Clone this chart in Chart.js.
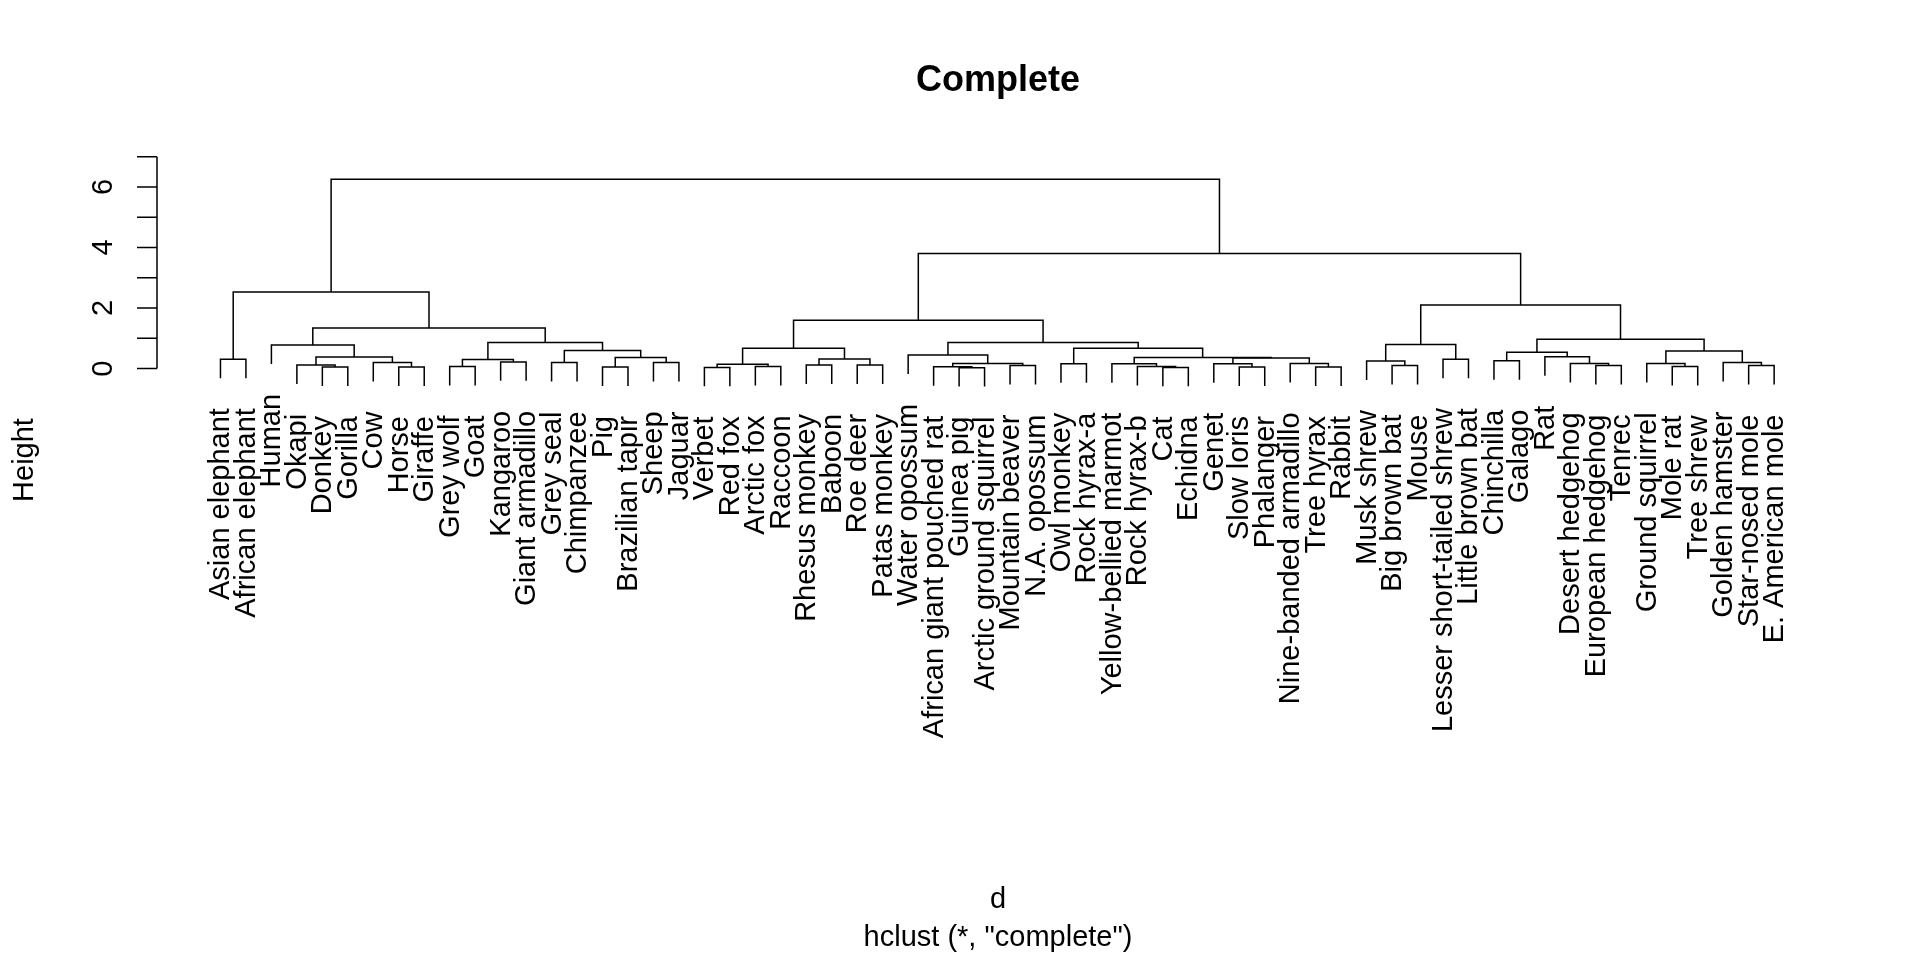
<!DOCTYPE html>
<html lang="en">
<head>
    <meta charset="UTF-8">
    <title>Complete</title>
    <style>
        body { margin: 0; padding: 0; background: #fff; }
        canvas { display: block; }
    </style>
</head>
<body>
    <canvas id="dendro" width="1920" height="960"></canvas>

    <script src="https://cdn.jsdelivr.net/npm/chart.js"></script>
    <script>
        const labels = ['Asian elephant', 'African elephant', 'Human', 'Okapi', 'Donkey', 'Gorilla', 'Cow', 'Horse', 'Giraffe',
            'Grey wolf', 'Goat', 'Kangaroo', 'Giant armadillo', 'Grey seal', 'Chimpanzee', 'Pig', 'Brazilian tapir', 'Sheep', 'Jaguar',
            'Verbet', 'Red fox', 'Arctic fox', 'Raccoon', 'Rhesus monkey', 'Baboon', 'Roe deer', 'Patas monkey', 'Water opossum',
            'African giant pouched rat', 'Guinea pig', 'Arctic ground squirrel', 'Mountain beaver', 'N.A. opossum', 'Owl monkey',
            'Rock hyrax-a', 'Yellow-bellied marmot', 'Rock hyrax-b', 'Cat', 'Echidna', 'Genet', 'Slow loris', 'Phalanger',
            'Nine-banded armadillo', 'Tree hyrax', 'Rabbit', 'Musk shrew', 'Big brown bat', 'Mouse', 'Lesser short-tailed shrew',
            'Little brown bat', 'Chinchilla', 'Galago', 'Rat', 'Desert hedgehog', 'European hedgehog', 'Tenrec', 'Ground squirrel',
            'Mole rat', 'Tree shrew', 'Golden hamster', 'Star-nosed mole', 'E. American mole'];

        // merges: [height, left, right]; a number is a leaf (1-based position)
        const A = [2.53, [0.31, 1, 2],
            [1.34,
                [0.78, 3, [0.38, [0.12, 4, [0.05, 5, 6]], [0.2, 7, [0.05, 8, 9]]]],
                [0.86, [0.3, [0.07, 10, 11], [0.22, 12, 13]],
                    [0.6, [0.2, 14, 15], [0.37, [0.05, 16, 17], [0.2, 18, 19]]]]]];
        const B1 = [1.6,
            [0.67, [0.14, [0.04, 20, 21], [0.07, 22, 23]], [0.32, [0.12, 24, 25], [0.12, 26, 27]]],
            [0.86, [0.45, 28, [0.17, [0.06, 29, [0.03, 30, 31]], [0.1, 32, 33]]],
                [0.67, [0.16, 34, 35],
                    [0.37, [0.16, 36, [0.07, 37, [0.04, 38, 39]]],
                        [0.35, [0.16, 40, [0.05, 41, 42]], [0.17, 43, [0.05, 44, 45]]]]]]];
        const B2 = [2.1,
            [0.8, [0.25, 46, [0.1, 47, 48]], [0.31, 49, 50]],
            [0.97, [0.54, [0.26, 51, 52], [0.39, 53, [0.17, 54, [0.1, 55, 56]]]],
                [0.58, [0.17, 57, [0.07, 58, 59]], [0.2, 60, [0.1, 61, 62]]]]];
        const tree = [6.25, A, [3.8, B1, B2]];

        const hang = 0.1 * 6.25;
        const segments = [];
        const leafEnds = [];

        // returns [x, y] of the node's top
        function walk(node, parentH) {
            if (typeof node === 'number') {
                leafEnds.push({ x: node, y: parentH - hang, label: labels[node - 1] });
                return [node, parentH - hang];
            }
            const h = node[0];
            const l = walk(node[1], h);
            const r = walk(node[2], h);
            segments.push([{ x: l[0], y: l[1] }, { x: l[0], y: h }, { x: r[0], y: h }, { x: r[0], y: r[1] }]);
            return [(l[0] + r[0]) / 2, h];
        }
        walk(tree, 0);

        const font = '"Liberation Sans", Arial, Helvetica, sans-serif';

        const extras = {
            id: 'extras',
            afterDraw(chart) {
                const ctx = chart.ctx;
                const xs = chart.scales.x, ys = chart.scales.y;
                ctx.save();
                ctx.fillStyle = '#000';
                ctx.strokeStyle = '#000';
                ctx.lineWidth = 1.5;

                // leaf labels
                ctx.font = '29px ' + font;
                ctx.textAlign = 'right';
                ctx.textBaseline = 'alphabetic';
                leafEnds.forEach(l => {
                    ctx.save();
                    ctx.translate(xs.getPixelForValue(l.x) + 9, ys.getPixelForValue(l.y) + 30);
                    ctx.rotate(-Math.PI / 2);
                    ctx.fillText(l.label, 0, 0);
                    ctx.restore();
                });

                // y axis
                const ax = 157;
                ctx.beginPath();
                ctx.moveTo(ax, ys.getPixelForValue(0));
                ctx.lineTo(ax, ys.getPixelForValue(7));
                for (let t = 0; t <= 7; t++) {
                    ctx.moveTo(ax, ys.getPixelForValue(t));
                    ctx.lineTo(ax - 20, ys.getPixelForValue(t));
                }
                ctx.stroke();
                ctx.textAlign = 'center';
                [0, 2, 4, 6].forEach(t => {
                    ctx.save();
                    ctx.translate(112, ys.getPixelForValue(t));
                    ctx.rotate(-Math.PI / 2);
                    ctx.fillText(String(t), 0, 0);
                    ctx.restore();
                });
                ctx.save();
                ctx.translate(33, 460);
                ctx.rotate(-Math.PI / 2);
                ctx.fillText('Height', 0, 0);
                ctx.restore();

                // title and subtitles
                ctx.textBaseline = 'middle';
                ctx.font = 'bold 36px ' + font;
                ctx.fillText('Complete', 998, 81);
                ctx.font = '29px ' + font;
                ctx.fillText('d', 998, 900);
                ctx.fillText('hclust (*, "complete")', 998, 938);
                ctx.restore();
            }
        };

        new Chart(document.getElementById('dendro'), {
            type: 'scatter',
            data: {
                datasets: segments.map(s => ({
                    data: s,
                    showLine: true,
                    borderColor: '#000',
                    borderWidth: 1.5,
                    pointRadius: 0,
                    tension: 0,
                    clip: false
                }))
            },
            options: {
                responsive: false,
                animation: false,
                devicePixelRatio: 1,
                layout: { padding: { left: 195, right: 120.4, top: 150.6, bottom: 570.2 } },
                plugins: { legend: { display: false }, tooltip: { enabled: false }, title: { display: false } },
                scales: {
                    x: { type: 'linear', min: 0, max: 63, display: false },
                    y: { type: 'linear', min: -0.7, max: 7.2, display: false }
                }
            },
            plugins: [extras]
        });
    </script>
</body>
</html>
